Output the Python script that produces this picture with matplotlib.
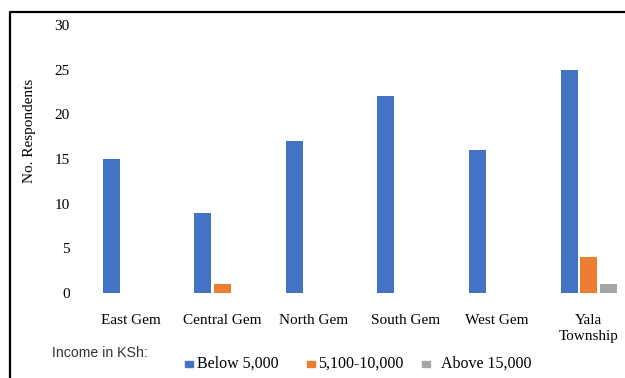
import matplotlib
matplotlib.use("Agg")
import matplotlib.pyplot as plt
from matplotlib.patches import Rectangle
from matplotlib.lines import Line2D
import numpy as np

categories = ["East Gem", "Central Gem", "North Gem", "South Gem", "West Gem", "Yala\nTownship"]
series_names = ["Below 5,000", "5,100-10,000", "Above 15,000"]
below_5000 = [15, 9, 17, 22, 16, 25]
mid_5100_10000 = [0, 1, 0, 0, 0, 4]
above_15000 = [0, 0, 0, 0, 0, 1]
yticks = [0, 5, 10, 15, 20, 25, 30]

colors = ["#4472C4", "#ED7D31", "#A5A5A5"]
serif = ["Liberation Serif", "DejaVu Serif"]

W, H = 625, 378
fig = plt.figure(figsize=(W / 100, H / 100), dpi=100)

left_px, right_px = 85, 625
bot_px, top_px = 293, 25
ax = fig.add_axes([left_px / W, 1 - bot_px / H, (right_px - left_px) / W, (bot_px - top_px) / H])

x = np.arange(len(categories))
width = 0.185
offset = 0.215
for i, (vals, c) in enumerate(zip([below_5000, mid_5100_10000, above_15000], colors)):
    ax.bar(x + (i - 1) * offset, vals, width=width, color=c, label=series_names[i])

spacing_px = 91.6
ax.set_xlim(-0.5, -0.5 + (right_px - left_px) / spacing_px)
ax.set_ylim(0, 30)
ax.set_yticks(yticks)
ax.set_xticks(x)
ax.set_xticklabels(categories, fontfamily=serif, fontsize=11, linespacing=1.3)
for lab in ax.get_yticklabels():
    lab.set_fontfamily(serif)
    lab.set_fontsize(11)
ax.tick_params(axis="both", length=0)
ax.tick_params(axis="y", pad=11)
ax.tick_params(axis="x", pad=15)
for s in ax.spines.values():
    s.set_visible(False)

fig.text(30 / W, 1 - 131 / H, "No. Respondents", rotation=90, ha="center", va="center",
         fontfamily=serif, fontsize=11)

# border (frame partially visible)
fig.add_artist(Line2D([10 / W, 10 / W, 1.0], [0.0, 1 - 12 / H, 1 - 12 / H],
                      transform=fig.transFigure, color="black", lw=1.6))

# legend
fig.text(52 / W, 1 - 353 / H, "Income in KSh:", ha="left", va="center",
         fontfamily=["Liberation Sans", "DejaVu Sans"], fontsize=10.2, color="#333333")
sq_x = [185, 307, 422]
txt_x = [197, 318, 441]
ly = 364
for sx, tx, c, name in zip(sq_x, txt_x, colors, series_names):
    fig.add_artist(Rectangle((sx / W, 1 - (ly + 3) / H), 8 / W, 6 / H,
                             transform=fig.transFigure, color=c))
    fig.text(tx / W, 1 - ly / H, name, ha="left", va="center",
             fontfamily=serif, fontsize=11.5)

fig.savefig("out.png", dpi=100)
